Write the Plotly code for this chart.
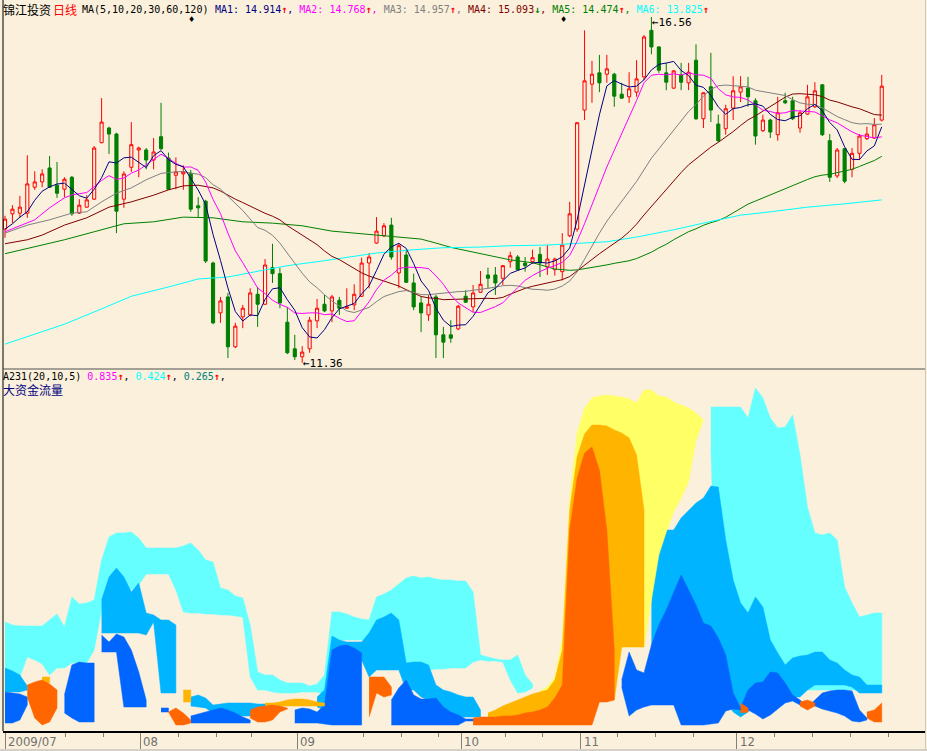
import pandas as pd
import plotly.graph_objects as go

BG = "#FAF0DC"

# ---------------- price data (daily candles, index 0..118) ----------------
opens = [13.37,13.60,13.61,13.61,14.00,14.08,14.29,14.03,13.97,14.15,
 13.61,13.70,13.82,14.67,14.89,14.80,13.82,14.30,14.56,14.56,
 14.41,14.76,14.44,14.18,14.20,14.21,13.72,13.79,12.86,12.11,
 12.35,11.60,12.05,12.08,12.39,12.24,12.79,12.70,11.97,11.57,
 11.45,11.57,11.99,12.24,12.14,12.30,12.18,12.23,12.36,12.86,
 13.16,13.27,13.43,12.71,12.98,12.56,12.26,12.08,12.35,11.78,
 11.78,11.87,12.36,12.20,12.42,12.68,12.68,12.63,12.88,12.95,
 12.86,12.88,12.99,12.80,12.76,12.73,13.27,13.37,15.16,15.55,
 15.72,15.70,15.70,15.40,15.36,15.43,15.66,16.36,16.11,15.72,
 15.49,15.69,15.57,15.91,15.03,15.51,14.95,14.88,15.19,15.43,
 15.49,15.30,14.85,15.01,14.79,15.30,15.30,14.89,15.10,15.21,
 15.54,14.70,14.17,14.58,14.27,14.51,14.73,14.74,15.01]
highs = [13.57,13.73,13.87,14.48,14.24,14.27,14.47,14.38,14.15,14.17,
 13.82,13.88,14.62,15.34,14.91,14.82,14.24,14.98,14.61,14.59,
 14.74,15.27,14.52,14.45,14.33,14.26,13.85,13.81,12.88,12.35,
 12.41,11.96,12.23,12.48,12.50,12.92,13.15,12.79,12.20,11.78,
 11.61,12.05,12.32,12.38,12.38,12.35,12.48,12.54,12.94,13.01,
 13.55,13.46,13.54,13.16,13.06,12.70,12.35,12.38,12.38,11.90,
 12.00,12.23,12.45,12.53,12.74,12.79,12.80,12.83,13.03,12.98,
 12.95,13.06,13.10,13.13,12.94,13.31,13.78,14.98,16.36,15.90,
 15.99,15.99,15.72,15.57,15.73,15.91,16.29,16.56,16.12,15.87,
 15.76,15.87,15.87,16.15,15.43,16.02,15.09,15.24,15.67,15.67,
 15.66,15.34,15.09,15.03,15.36,15.42,15.36,15.16,15.54,15.58,
 15.55,14.80,14.59,14.59,14.59,14.80,14.91,15.04,15.69]
lows = [13.24,13.46,13.54,13.54,13.96,14.00,13.99,13.84,13.85,13.57,
 13.60,13.69,13.81,14.66,14.50,13.31,13.69,14.23,14.15,14.27,
 14.27,14.56,13.96,13.97,13.96,13.63,13.54,12.86,11.94,11.96,
 11.43,11.58,11.88,12.06,11.90,12.23,12.56,12.18,11.49,11.40,
 11.36,11.51,11.88,12.12,11.97,12.08,12.17,12.15,12.35,12.48,
 13.15,13.25,12.91,12.48,12.56,12.15,11.82,11.99,11.43,11.43,
 11.66,11.85,12.26,12.12,12.41,12.48,12.38,12.53,12.79,12.74,
 12.73,12.85,12.65,12.68,12.67,12.60,13.25,13.33,15.01,15.27,
 15.43,15.57,15.21,15.33,15.27,15.36,15.61,16.00,15.72,15.46,
 15.48,15.46,15.46,15.01,14.89,14.98,14.68,14.79,15.01,15.28,
 15.21,14.64,14.83,14.74,14.70,15.25,15.01,14.82,15.09,15.19,
 14.77,14.08,14.14,14.06,14.15,14.41,14.71,14.73,14.99]
closes = [13.52,13.67,13.70,14.05,14.08,14.20,14.00,13.91,14.12,13.60,
 13.73,13.81,14.59,14.98,14.80,13.64,14.20,14.64,14.59,14.41,
 14.53,14.58,13.97,14.23,14.23,13.67,13.69,12.89,11.96,12.29,
 11.60,11.91,12.18,12.41,12.24,12.83,12.70,12.26,11.51,11.45,
 11.52,12.00,12.18,12.14,12.35,12.18,12.20,12.39,12.86,12.95,
 13.34,13.42,12.95,13.12,12.57,12.20,12.11,12.24,11.78,11.67,
 11.73,12.21,12.27,12.41,12.54,12.63,12.56,12.82,12.97,12.76,
 12.82,12.94,12.86,12.92,12.92,13.13,13.60,14.97,15.60,15.70,
 15.57,15.78,15.37,15.34,15.48,15.63,16.26,16.11,15.76,15.58,
 15.75,15.58,15.73,15.03,15.42,15.16,14.70,15.18,15.45,15.51,
 15.36,14.77,15.01,14.83,15.12,15.27,15.03,15.12,15.36,15.45,
 14.79,14.15,14.56,14.09,14.51,14.77,14.80,14.94,15.52]
idx = list(range(len(closes)))

ma5_head_idx = [0, 1, 2, 3]
ma5_head = [13.37, 13.45, 13.55, 13.63]
ma10_head_idx = [0, 2, 4, 6, 8]
ma10_head = [13.33, 13.42, 13.51, 13.69, 13.84]
ma20_head_idx = [0, 3, 6, 9, 11, 13, 15, 17]
ma20_head = [13.31, 13.43, 13.51, 13.61, 13.63, 13.78, 13.91, 13.99]
ma30_head_idx = [0, 3, 5, 8, 11, 14, 17, 20, 22, 24, 26, 28]
ma30_head = [13.15, 13.21, 13.28, 13.43, 13.54, 13.70, 13.78, 13.88, 13.96, 14.02, 14.03, 13.99]
ma60_head_idx = [0, 4, 8, 12, 16, 20, 24, 28, 32, 36, 40, 44, 48, 52, 56, 58]
ma60_head = [13.00, 13.10, 13.21, 13.33, 13.45, 13.48, 13.55, 13.54, 13.48, 13.46, 13.42, 13.34, 13.30, 13.26, 13.22, 13.16]
ma120_idx = [0, 4, 8, 13, 17, 22, 26, 30, 34, 38, 42, 46, 50, 55, 59, 64, 68, 73, 77, 81, 85, 90, 94, 99, 103, 108, 113, 118]
ma120_val = [11.64, 11.79, 11.94, 12.17, 12.36, 12.50, 12.62, 12.65, 12.74, 12.82, 12.88, 12.95, 13.01, 13.06, 13.09, 13.10,
             13.12, 13.13, 13.15, 13.18, 13.25, 13.36, 13.46, 13.58, 13.63, 13.70, 13.75, 13.81]

# ---------------- lower panel: "大资金流量" coloured bands ----------------
N = None
cyan_x = list(range(0, 72)) + [N] + list(range(95, 119))
cyan_hi = [10.5,10.2,10.1,10.1,10.1,10.1,10.7,11.3,10.0,13.0,
 12.3,12.4,12.7,16.7,19.0,19.4,19.4,19.5,18.9,17.9,
 17.9,17.9,17.9,17.9,18.1,18.4,17.7,16.7,16.5,13.9,
 13.7,13.1,12.9,10.2,5.5,5.2,5.2,4.7,4.4,4.4,
 4.4,4.1,4.3,5.2,11.5,11.5,11.3,11.0,10.8,10.7,
 13.0,13.3,13.7,14.3,14.9,15.1,14.9,15.0,14.8,14.7,
 14.7,14.6,14.6,13.5,7.2,7.0,6.8,6.7,6.7,7.2,
 5.2,4.3, N,
 32.0,32.0,32.0,32.0,32.0,30.9,33.9,32.9,30.9,29.9,
 30.0,31.2,27.2,22.0,19.4,19.2,19.4,18.7,14.0,12.4,
 11.0,11.2,11.4,11.4]
cyan_lo = [5.9,5.4,5.0,7.0,6.7,6.3,5.2,5.9,5.9,6.4,
 6.4,6.4,7.7,11.7,13.7,14.2,14.2,13.7,14.2,15.3,
 15.3,15.3,15.3,13.7,11.5,11.4,11.4,11.3,11.3,11.2,
 11.2,11.1,11.0,5.0,3.7,3.7,3.5,3.4,3.4,3.4,
 3.5,3.5,3.5,3.2,8.7,8.7,8.7,8.7,8.7,8.7,
 10.2,10.2,10.2,5.9,5.7,5.7,5.7,5.7,5.8,5.8,
 5.9,5.9,5.9,6.5,6.7,6.6,6.6,6.5,4.7,3.4,
 3.5,3.9, N,
 28.0] + [3.7] * 22 + [3.4]

mblue_x = [0, 1, 2, 3, N] + list(range(13, 24)) + [N] + list(range(25, 36)) + [N] + \
          list(range(42, 65)) + [N] + list(range(87, 119))
mblue_hi = [5.9,5.6,5.2,4.1, N,
 12.7,15.0,15.9,15.0,13.5,14.4,11.4,11.2,10.7,10.7,10.2, N,
 3.0,3.2,2.9,2.2,2.3,2.4,2.4,2.4,2.4,2.3,2.3, N,
 3.0,3.7,9.1,8.7,8.5,8.5,8.5,9.4,10.7,11.0,11.4,10.7,6.4,6.5,6.5,6.2,4.2,3.7,3.5,3.2,3.0,3.0,1.7, N,
 14.7,17.7,19.7,19.7,20.9,21.7,22.4,22.9,24.1,24.0,18.7,14.7,12.4,11.4,13.0,12.0,
 8.7,7.4,6.2,6.9,7.1,7.2,7.5,7.5,6.7,6.4,5.7,5.2,5.0,4.2,4.2,4.2]
mblue_lo = [3.5,3.5,3.5,3.7, N,
 9.4,9.4,9.4,9.4,9.4,9.4,9.2,10.5,3.4,3.4,3.4, N,
 2.1,2.0,1.9,1.4,1.3,1.3,1.2,1.1,1.1,1.1,1.2, N,
 2.0,1.7,7.7,6.7,6.7,6.7,6.7,5.0,5.7,5.7,5.7,5.7,3.7,3.7,3.0,2.7,1.7,1.4,1.2,1.0,1.0,1.0,1.0, N,
 7.7] + [2.7] * 10 + [1.5, 1.0, 1.5] + [2.7] * 5 + [3.0, 3.0, 3.7] + [4.2] * 5 + [4.0] + [3.4] * 4

dblue_x = [0, 1, 2, 3, N] + list(range(8, 13)) + [N] + list(range(13, 20)) + [N, 21, 22, N] + \
          list(range(25, 34)) + [N] + list(range(39, 49)) + [N] + list(range(52, 65)) + [N] + list(range(83, 117))
dblue_hi = [3.5,3.4,3.3,3.0, N,
 3.2,6.2,6.5,6.4,6.4, N,
 9.2,8.5,9.3,9.0,7.7,5.5,2.7, N,
 1.9,1.9, N,
 1.1,1.3,1.5,1.7,1.9,1.7,1.4,1.0,0.7, N,
 1.7,1.9,1.8,1.5,2.2,7.7,8.1,8.2,7.9,7.4, N,
 2.7,3.9,4.7,3.2,2.8,2.8,2.9,2.0,1.5,1.2,0.8,0.8,0.8, N,
 4.7,7.5,5.7,5.4,8.2,10.2,11.7,13.5,15.2,13.7,12.2,10.4,10.1,8.9,7.2,3.4,1.9,
 3.7,4.4,4.5,5.5,5.4,4.4,3.2,2.7,2.0,2.7,3.4,3.6,3.7,3.7,3.6,1.7,0.9]
dblue_lo = [0.4,0.4,0.7,2.2, N,
 1.4,0.9,0.5,0.5,0.5, N,
 7.5,7.5,7.5,2.0,2.0,2.0,2.0, N,
 1.5,1.5, N] + [0.4] * 9 + [N,
 0.4,0.4,0.4,0.4,0.3,0.2,0.2,0.2,0.2,0.2, N] + [0.2] * 10 + [0.6, 0.6, 0.6, N,
 4.0,1.1,1.7,2.0,2.2,2.2,2.2,2.2,0.2,0.2,0.2,0.2,0.3,0.4,1.6,1.8,1.7,
 1.7,1.3,0.8,1.2,1.8,2.4,2.6,2.2,2.3,2.1,1.8,1.6,1.4,1.1,0.6,0.5,0.7]

yellow_x = list(range(72, 95))
yellow_hi = [3.6,4.0,5.0,8.7,22.7,29.4,31.9,32.9,33.1,33.2,33.1,33.0,32.8,32.4,33.7,33.7,33.1,33.0,32.5,32.2,31.9,31.4,30.7]
yellow_lo = [3.5,3.5,3.5,3.7,3.7,3.7,3.7,3.7,3.7,3.7,3.7,8.0,8.0,8.0,8.0,12.7,17.2,19.5,21.5,22.9,24.5,28.7,30.7]

amber_x = [5, 6, N, 24, 25, N] + list(range(35, 44)) + [N] + list(range(65, 87))
amber_hi = [5.0, 5.0, N, 3.7, 3.7, N,
 2.4,2.4,2.5,2.7,2.8,2.8,2.7,2.5,2.4, N,
 1.4,1.7,2.1,2.4,2.7,3.0,3.3,3.5,3.7,4.7,7.7,21.7,27.0,29.3,30.2,30.2,30.1,29.7,29.4,28.9,27.2,21.7]
amber_lo = [4.4, 4.4, N, 2.5, 2.5, N] + [2.1] * 9 + [N] + [1.0] * 6 + [1.2, 1.5, 1.7, 2.2] + [2.7] * 8 + [8.0] * 4

orange_x = list(range(3, 8)) + [N] + list(range(22, 26)) + [N] + list(range(33, 39)) + [N] + \
           list(range(49, 53)) + [N] + list(range(63, 83)) + [N, 99, 100, N, 107, 108, 109, N, 116, 117, 118]
orange_hi = [4.2,4.5,4.7,4.3,3.7, N,
 1.5,1.9,1.4,0.7, N,
 1.7,2.0,2.1,2.2,2.1,1.9, N,
 5.0,5.0,5.0,4.0, N,
 0.9,1.0,1.0,1.0,1.1,1.1,1.2,1.4,1.5,1.7,2.0,2.9,4.2,19.7,24.9,27.4,28.0,25.7,19.7,7.7, N,
 2.4,1.9, N, 2.5,2.7,2.4, N, 1.5,1.7,2.4]
orange_lo = [3.0,0.9,0.2,0.5,1.9, N,
 1.5,0.2,0.2,0.4, N,
 0.9,0.5,0.5,0.7,1.5,1.8, N,
 1.0,3.4,3.0,3.2, N] + [0.2] * 17 + [2.5, 2.5, 2.7, N,
 1.4,1.5, N, 2.1,1.7,2.1, N, 0.9,0.5,0.5]

# ---------------- axis labels ----------------
month_ticks = [0, 18.2, 39.3, 61.4, 77.5, 98.5]
month_labels = ["2009/07", "08", "09", "10", "11", "12"]
week_ticks = [8.1, 13.2, 23.3, 28.4, 33.2, 48.3, 53.4, 58.4, 67.3, 72.3, 82.5, 87.5, 92.6,
              103.6, 108.7, 113.8, 118.9]

# ---------------- build figure ----------------
W, H = 927, 751
ML, MR, MT, MB = 3, 2, 0, 20
PW, PH = W - ML - MR, H - MT - MB


def PX(x):
    return (x - ML) / PW


def PY(y):
    return 1 - (y - MT) / PH


fig = go.Figure()


def band(xs, hi, lo, color):
    px, py, seg = [], [], []
    for x, h, l in zip(xs + [None], hi + [None], lo + [None]):
        if x is None:
            if seg:
                sx = [s[0] for s in seg]
                px += sx + sx[::-1] + [None]
                py += [s[1] for s in seg] + [s[2] for s in seg][::-1] + [None]
            seg = []
        else:
            seg.append((x, h, l))
    fig.add_trace(go.Scatter(x=px, y=py, mode="lines", fill="toself", fillcolor=color,
                             line=dict(color=color, width=0.5), xaxis="x", yaxis="y2",
                             hoverinfo="skip"))


band(cyan_x, cyan_hi, cyan_lo, "#66FFFF")
band(mblue_x, mblue_hi, mblue_lo, "#00B4FF")
band(dblue_x, dblue_hi, dblue_lo, "#0066FF")
band(yellow_x, yellow_hi, yellow_lo, "#FFFF66")
band(amber_x, amber_hi, amber_lo, "#FFB400")
band(orange_x, orange_hi, orange_lo, "#FF6600")

fig.add_trace(go.Candlestick(
    x=idx, open=opens, high=highs, low=lows, close=closes,
    increasing=dict(line=dict(color="#FF0000", width=1), fillcolor=BG),
    decreasing=dict(line=dict(color="#007F00", width=1), fillcolor="#007F00"),
    whiskerwidth=0, xaxis="x", yaxis="y", hoverinfo="skip"))

cs = pd.Series(closes)


def ma_line(n, head_idx, head_val, color):
    m = cs.rolling(n).mean()
    xs = list(head_idx) + list(range(n - 1, len(closes)))
    ys = list(head_val) + [float(v) for v in m.iloc[n - 1:]]
    fig.add_trace(go.Scatter(x=xs, y=ys, mode="lines", line=dict(color=color, width=1),
                             xaxis="x", yaxis="y", hoverinfo="skip"))


ma_line(60, ma60_head_idx, ma60_head, "#008000")
fig.add_trace(go.Scatter(x=ma120_idx, y=ma120_val, mode="lines", line=dict(color="#00FFFF", width=1),
                         xaxis="x", yaxis="y", hoverinfo="skip"))
ma_line(30, ma30_head_idx, ma30_head, "#800000")
ma_line(20, ma20_head_idx, ma20_head, "#808080")
ma_line(10, ma10_head_idx, ma10_head, "#FF00FF")
ma_line(5, ma5_head_idx, ma5_head, "#000080")

MONO = "DejaVu Sans Mono"
CJK = "Noto Sans CJK SC"


def sp(t, c):
    return f'<span style="color:{c}">{t}</span>'


UP = "<b>↑</b>"
DN = "<b>↓</b>"

ann = []
ann.append(dict(text="锦江投资", x=PX(2), y=PY(9), font=dict(family=CJK, size=12, color="black")))
ann.append(dict(text="日线", x=PX(52), y=PY(9), font=dict(family=CJK, size=12, color="#FF0000")))
ann.append(dict(text="MA(5,10,20,30,60,120)", x=PX(81), y=PY(9), font=dict(family=MONO, size=10, color="black")))
hdr = (sp("MA1: 14.914", "#000080") + sp(UP, "#FF0000") + sp(", ", "#000080") +
       sp("MA2: 14.768", "#FF00FF") + sp(UP, "#FF0000") + sp(", ", "#FF00FF") +
       sp("MA3: 14.957", "#808080") + sp(UP, "#FF0000") + sp(", ", "#808080") +
       sp("MA4: 15.093", "#800000") + sp(DN, "#008000") + sp(", ", "#800000") +
       sp("MA5: 14.474", "#008000") + sp(UP, "#FF0000") + sp(", ", "#008000") +
       sp("MA6: 13.825", "#00FFFF") + sp(UP, "#FF0000"))
ann.append(dict(text=hdr, x=PX(214), y=PY(9), font=dict(family=MONO, size=10, color="black")))
for mx in (191, 563):
    ann.append(dict(text="♦", x=PX(mx), y=PY(19), xanchor="center", font=dict(family="DejaVu Sans", size=8, color="black")))

sub = ("A231(20,10,5) " + sp("0.835", "#FF00FF") + sp(UP, "#FF0000") + ", " +
       sp("0.424", "#00FFFF") + sp(UP, "#FF0000") + ", " +
       sp("0.265", "#008080") + sp(UP, "#FF0000") + ",")
ann.append(dict(text=sub, x=PX(2), y=PY(376), font=dict(family=MONO, size=10, color="black")))
ann.append(dict(text="大资金流量", x=PX(2), y=PY(389), font=dict(family=CJK, size=12, color="#000080")))

for a in ann:
    a.update(xref="paper", yref="paper", showarrow=False, yanchor="middle", borderpad=0)
    a.setdefault("xanchor", "left")

# high / low markers
hi_i = highs.index(max(highs))
lo_i = lows.index(min(lows))
ann.append(dict(text="←%.2f" % highs[hi_i], x=hi_i, y=highs[hi_i], xref="x", yref="y", xanchor="left",
                yanchor="middle", showarrow=False, yshift=-5, borderpad=0,
                font=dict(family=MONO, size=11, color="black")))
ann.append(dict(text="←%.2f" % lows[lo_i], x=lo_i, y=lows[lo_i], xref="x", yref="y", xanchor="left",
                yanchor="middle", showarrow=False, yshift=-1, borderpad=0,
                font=dict(family=MONO, size=11, color="black")))

for t, lab in zip(month_ticks, month_labels):
    ann.append(dict(text=lab, x=t, y=PY(741), xref="x", yref="paper", xanchor="left", yanchor="middle",
                    xshift=1, showarrow=False,
                    font=dict(family="DejaVu Sans Condensed, Liberation Sans Narrow, sans-serif", size=13,
                              color="#707070")))

shapes = [
    dict(type="line", xref="paper", yref="paper", x0=0, x1=0, y0=0, y1=1, line=dict(color="black", width=1)),
    dict(type="line", xref="paper", yref="paper", x0=0, x1=1, y0=PY(369), y1=PY(369), line=dict(color="#505050", width=1)),
    dict(type="line", xref="paper", yref="paper", x0=PX(925.5), x1=PX(925.5), y0=PY(751), y1=1, line=dict(color="#C8C8C8", width=1)),
    dict(type="line", xref="paper", yref="paper", x0=PX(0), x1=PX(927), y0=PY(750), y1=PY(750), line=dict(color="#D4D0C8", width=2)),
]

price_top = 16.816
price_bot = 11.281
fig.update_layout(
    width=W, height=H, margin=dict(l=ML, r=MR, t=MT, b=MB),
    paper_bgcolor=BG, plot_bgcolor=BG, showlegend=False,
    xaxis=dict(domain=[0, 1], range=[-0.27, 123.82], anchor="y2", showgrid=False, zeroline=False,
               showline=True, linecolor="black", linewidth=2, ticks="outside", ticklen=16,
               tickcolor="#808080", tickwidth=1, tickmode="array", tickvals=month_ticks,
               showticklabels=False, rangeslider=dict(visible=False),
               minor=dict(tickmode="array", tickvals=week_ticks, ticks="outside", ticklen=4,
                          tickcolor="#808080", showgrid=False)),
    yaxis=dict(domain=[PY(368), 1], range=[price_bot, price_top], showgrid=False, zeroline=False,
               showticklabels=False, ticks=""),
    yaxis2=dict(domain=[0, PY(370)], range=[-0.4, 35.7], showgrid=False, zeroline=False,
                showticklabels=False, ticks=""),
    boxgap=0.4,
    annotations=ann, shapes=shapes,
)

fig.write_html("out.html", config={"displayModeBar": False},
               post_script="document.body.style.margin='0px';document.body.style.overflow='hidden';")
